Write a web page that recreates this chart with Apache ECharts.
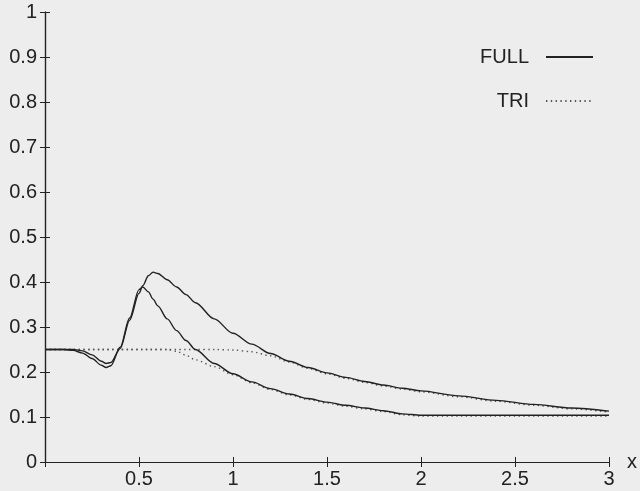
<!DOCTYPE html>
<html>
<head>
<meta charset="utf-8">
<script src="https://cdn.jsdelivr.net/npm/echarts@6/dist/echarts.min.js"></script>
<style>
  html, body { margin: 0; padding: 0; background: #ecedec; }
  #chart { width: 640px; height: 491px; }
</style>
</head>
<body>
<div id="chart"></div>
<script>
// x positions shared by all curves
var xs = [0, 0.05, 0.1, 0.15, 0.2, 0.25, 0.3, 0.325, 0.35, 0.4, 0.45, 0.5, 0.52, 0.55, 0.575, 0.6,
          0.65, 0.7, 0.75, 0.8, 0.9, 1.0, 1.1, 1.2, 1.3, 1.4, 1.5, 1.6, 1.7, 1.8, 1.9, 2.0,
          2.2, 2.4, 2.6, 2.8, 3.0];

// FULL, lower peak
var fullA = [0.25, 0.25, 0.25, 0.248, 0.242, 0.23, 0.215, 0.21, 0.214, 0.255, 0.32, 0.383, 0.389, 0.378, 0.362, 0.347,
             0.318, 0.292, 0.27, 0.25, 0.219, 0.196, 0.178, 0.163, 0.151, 0.141, 0.133, 0.126, 0.12, 0.114, 0.107, 0.104,
             0.104, 0.104, 0.104, 0.104, 0.104];
// FULL, upper peak
var fullB = [0.25, 0.25, 0.25, 0.25, 0.247, 0.238, 0.224, 0.219, 0.221, 0.252, 0.315, 0.375, 0.392, 0.414, 0.422, 0.419,
             0.405, 0.389, 0.372, 0.354, 0.318, 0.286, 0.262, 0.241, 0.224, 0.21, 0.198, 0.188, 0.179, 0.171, 0.164, 0.158,
             0.147, 0.137, 0.128, 0.12, 0.113];
// TRI, lower
var triA = [0.25, 0.25, 0.25, 0.25, 0.25, 0.25, 0.25, 0.25, 0.25, 0.25, 0.25, 0.25, 0.25, 0.25, 0.25, 0.25,
            0.25, 0.246, 0.237, 0.227, 0.212, 0.194, 0.176, 0.161, 0.149, 0.139, 0.131, 0.124, 0.118, 0.112, 0.105, 0.102,
            0.102, 0.102, 0.102, 0.102, 0.102];
// TRI, upper
var triB = [0.25, 0.25, 0.25, 0.25, 0.25, 0.25, 0.25, 0.25, 0.25, 0.25, 0.25, 0.25, 0.25, 0.25, 0.25, 0.25,
            0.25, 0.25, 0.25, 0.25, 0.25, 0.249, 0.245, 0.236, 0.222, 0.208, 0.196, 0.186, 0.177, 0.169, 0.162, 0.156,
            0.145, 0.135, 0.126, 0.118, 0.111];

var xTicks = { min: 0, max: 3, interval: 0.5 };
var yTicks = { min: 0, max: 1, interval: 0.1 };

function pairs(ys) {
  return xs.map(function (x, i) { return [x, ys[i]]; });
}

var font = 'Liberation Sans, Arial, sans-serif';
var ink = '#222';

var myChart = echarts.init(document.getElementById('chart'));

var solid = { color: ink, width: 1.4 };
var dotted = { color: '#555', width: 1.4, type: [1.4, 3.4] };

var option = {
  backgroundColor: '#ecedec',
  animation: false,
  grid: { left: 45, right: 28, top: 12, bottom: 29 },
  legend: {
    orient: 'vertical',
    right: 46,
    top: 47,
    padding: 0,
    align: 'right',
    itemWidth: 47,
    itemHeight: 20,
    itemGap: 24,
    itemStyle: { opacity: 0 },
    data: ['FULL', 'TRI'],
    textStyle: { fontFamily: font, fontSize: 20, color: ink, lineHeight: 20, padding: [0, 12, 0, 0] }
  },
  xAxis: [
    {
      type: 'value', position: 'bottom',
      min: xTicks.min, max: xTicks.max, interval: xTicks.interval,
      name: 'x', nameLocation: 'end', nameGap: 18,
      nameTextStyle: { fontFamily: font, fontSize: 20, color: ink },
      axisLine: { lineStyle: { color: ink, width: 1.2 } },
      axisTick: { inside: true, length: 5, lineStyle: { color: ink } },
      axisLabel: {
        fontFamily: font, fontSize: 20, color: ink, margin: 7,
        formatter: function (v) { return v === 0 ? '' : String(v); }
      },
      splitLine: { show: false }
    },
    {
      type: 'value', position: 'top',
      min: xTicks.min, max: xTicks.max, interval: xTicks.interval,
      axisLine: { lineStyle: { color: ink, width: 1.2 } },
      axisTick: { inside: true, length: 5, lineStyle: { color: ink } },
      axisLabel: { show: false },
      splitLine: { show: false }
    }
  ],
  yAxis: [
    {
      type: 'value', position: 'left',
      min: yTicks.min, max: yTicks.max, interval: yTicks.interval,
      axisLine: { show: true, lineStyle: { color: ink, width: 1.2 } },
      axisTick: { show: true, inside: true, length: 5, lineStyle: { color: ink } },
      axisLabel: { fontFamily: font, fontSize: 20, color: ink, margin: 8 },
      splitLine: { show: false }
    },
    {
      type: 'value', position: 'right',
      min: yTicks.min, max: yTicks.max, interval: yTicks.interval,
      axisLine: { show: true, lineStyle: { color: ink, width: 1.2 } },
      axisTick: { show: true, inside: true, length: 5, lineStyle: { color: ink } },
      axisLabel: { show: false },
      splitLine: { show: false }
    }
  ],
  series: [
    { name: 'TRI', type: 'line', data: pairs(triA), showSymbol: false, symbol: 'none',
      smooth: 0.3, smoothMonotone: 'x', lineStyle: dotted, itemStyle: { color: '#555' } },
    { name: 'TRI', type: 'line', data: pairs(triB), showSymbol: false, symbol: 'none',
      smooth: 0.3, smoothMonotone: 'x', lineStyle: dotted, itemStyle: { color: '#555' } },
    { name: 'FULL', type: 'line', data: pairs(fullA), showSymbol: false, symbol: 'none',
      smooth: 0.3, smoothMonotone: 'x', lineStyle: solid, itemStyle: { color: ink } },
    { name: 'FULL', type: 'line', data: pairs(fullB), showSymbol: false, symbol: 'none',
      smooth: 0.3, smoothMonotone: 'x', lineStyle: solid, itemStyle: { color: ink } }
  ]
};

myChart.setOption(option);
</script>
</body>
</html>
